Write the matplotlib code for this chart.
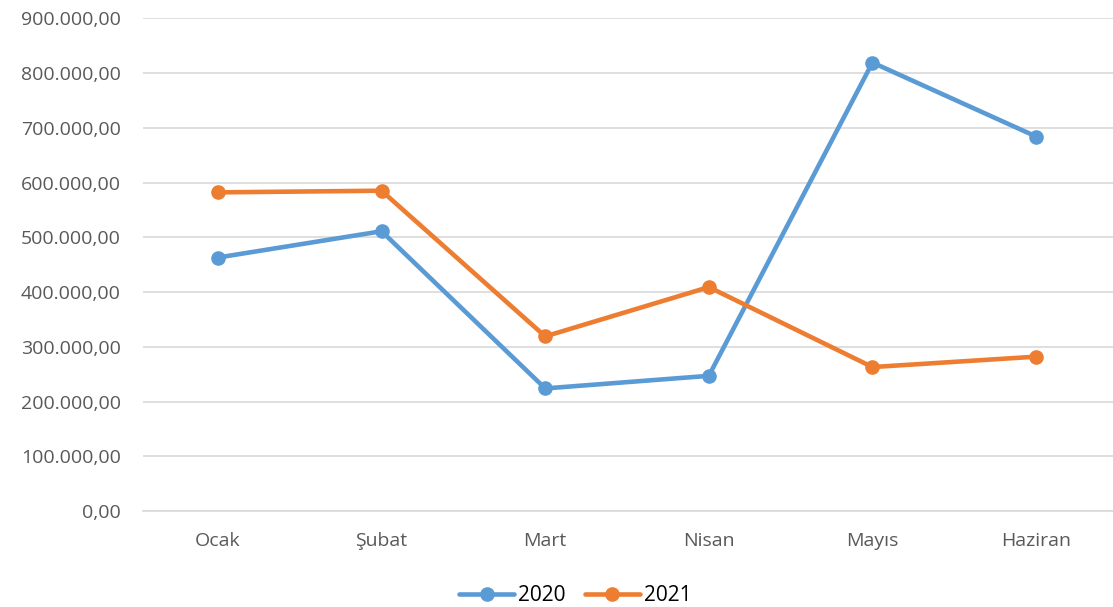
import matplotlib
matplotlib.use("Agg")
import matplotlib.pyplot as plt
from matplotlib.ticker import FuncFormatter, MultipleLocator

months = ["Ocak", "Şubat", "Mart", "Nisan", "Mayıs", "Haziran"]
series_2020 = [463000, 511000, 224000, 247000, 819000, 684000]
series_2021 = [582000, 585000, 319000, 409000, 263000, 282000]

plt.rcParams['font.family'] = ['Open Sans', 'DejaVu Sans']

fig = plt.figure(figsize=(11.13, 6.07), dpi=100)
ax = fig.add_axes([143 / 1113, 0.158, 1 - 143 / 1113, 0.812])

x = list(range(len(months)))
ax.plot(x, series_2020, color="#5B9BD5", lw=3.3, marker="o", ms=9.5, label="2020", solid_capstyle="round")
ax.plot(x, series_2021, color="#ED7D31", lw=3.3, marker="o", ms=9.5, label="2021", solid_capstyle="round")

ax.set_xlim(-0.458, 5.47)
ax.set_ylim(0, 900000)
ax.yaxis.set_major_locator(MultipleLocator(100000))

def fmt(v, pos):
    s = f"{v:,.2f}"
    return s.replace(",", "X").replace(".", ",").replace("X", ".")

ax.yaxis.set_major_formatter(FuncFormatter(fmt))
ax.set_xticks(x)
ax.set_xticklabels(months)
ax.grid(axis="y", color="#D9D9D9", lw=1.2)
ax.set_axisbelow(True)
for s in ["top", "right", "left"]:
    ax.spines[s].set_visible(False)
ax.spines["bottom"].set_color("#D9D9D9")
ax.spines["bottom"].set_linewidth(1.2)
ax.tick_params(axis="both", length=0, colors="#595959", labelsize=14)
ax.tick_params(axis="y", pad=16)
ax.tick_params(axis="x", pad=15)

leg = fig.legend(loc="lower center", bbox_to_anchor=(0.517, -0.03), ncol=2, frameon=False,
                 fontsize=15, handlelength=2.65, handletextpad=0.2, columnspacing=0.9)

fig.savefig("out.png", dpi=100)
